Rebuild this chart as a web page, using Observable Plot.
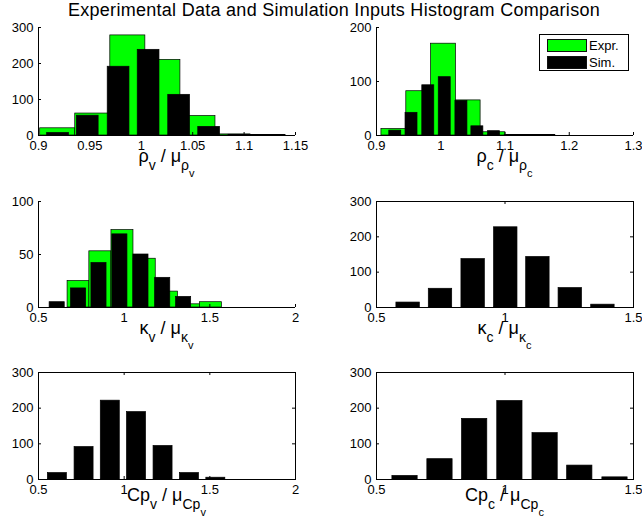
<!DOCTYPE html>
<html>
<head>
<meta charset="utf-8">
<script src="https://cdn.jsdelivr.net/npm/d3@7"></script>
<script src="https://cdn.jsdelivr.net/npm/@observablehq/plot@0.6"></script>
<style>
  body { margin: 0; background: white; font-family: "Liberation Sans", Arial, sans-serif; }
  #wrap { position: relative; width: 642px; height: 529px; overflow: hidden; }
  .cell { position: absolute; }
  .cell svg { overflow: visible; }
  .title { position: absolute; left: 34px; top: 1px; width: 600px; text-align: center; font-size: 18px; line-height: 18px; letter-spacing: 0.28px; white-space: nowrap; }
  .xl { position: absolute; text-align: center; font-size: 18px; line-height: 18px; white-space: nowrap; }
  .s1 { font-size: 14px; vertical-align: -8px; }
  .s2 { font-size: 11px; vertical-align: -7px; }
  .legend { position: absolute; left: 539px; top: 34px; width: 88px; height: 35px; border: 1px solid black; background: white; font-size: 13px; }
  .sw { position: absolute; left: 7px; width: 38px; height: 11px; border: 1px solid #111; }
  .lt { position: absolute; left: 49px; line-height: 13px; }
</style>
</head>
<body>
<div id="wrap">
  <div class="title">Experimental Data and Simulation Inputs Histogram Comparison</div>
</div>
<script>
// ---------- data ----------
const seriesNames = ["Expr.", "Sim."];

// rho_v / mu_rho_v
const rhoVExprCenters = [0.9187, 0.9528, 0.9869, 1.0210, 1.0551, 1.0892, 1.1233];
const rhoVExprCounts  = [20, 61, 278, 210, 54, 3, 1];
const rhoVSimCenters  = [0.9190, 0.9479, 0.9779, 1.0071, 1.0368, 1.0660, 1.0954, 1.1248];
const rhoVSimCounts   = [7, 55, 191, 238, 113, 24, 2, 1];

// rho_c / mu_rho_c
const rhoCExprCenters = [0.9270, 0.9657, 1.0043, 1.0427, 1.0813, 1.1203, 1.1590];
const rhoCExprCounts  = [12, 82, 170, 65, 6, 1, 1];
const rhoCSimCenters  = [0.9292, 0.9545, 0.9806, 1.0062, 1.0322, 1.0570, 1.0829, 1.1089];
const rhoCSimCounts   = [9, 42, 93, 108, 64, 17, 8, 1];

// kappa_v / mu_kappa_v
const kapVExprCenters = [0.734, 0.861, 0.990, 1.120, 1.250, 1.378, 1.506];
const kapVExprCounts  = [25, 53, 73, 46, 15, 3, 5];
const kapVSimCenters  = [0.609, 0.734, 0.853, 0.975, 1.098, 1.225, 1.347];
const kapVSimCounts   = [5, 18, 42, 69, 50, 28, 10];

// kappa_c / mu_kappa_c
const kapCSimCenters = [0.623, 0.749, 0.876, 1.003, 1.128, 1.254, 1.381];
const kapCSimCounts  = [14, 53, 137, 227, 143, 55, 8];

// Cp_v / mu_Cp_v
const cpVSimCenters = [0.610, 0.766, 0.919, 1.072, 1.227, 1.381, 1.535];
const cpVSimCounts  = [18, 91, 221, 189, 94, 18, 5];

// Cp_c / mu_Cp_c
const cpCSimCenters = [0.611, 0.747, 0.882, 1.019, 1.156, 1.291, 1.428];
const cpCSimCounts  = [10, 57, 170, 220, 130, 39, 6];

// tick values
const xTicksRhoV = [0.9, 0.95, 1, 1.05, 1.1, 1.15];
const xTicksRhoC = [0.9, 1, 1.1, 1.2, 1.3];
const xTicksWide = [0.5, 1, 1.5, 2];
const xTicksNarrow = [0.5, 1, 1.5];
const yTicks300 = [0, 100, 200, 300];
const yTicks200 = [0, 100, 200];
const yTicks100 = [0, 50, 100];

// ---------- styling / layout ----------
const GREEN = "#00ff00", BLACK = "#000000";
const EXPR_FRAC = 1.0, SIM_FRAC = 0.72, TICK = 3;

const panels = [
  { left: 0, top: 0, width: 321, height: 175, ml: 38, mr: 26, mt: 27, mb: 40, box: false,
    xDomain: [0.9, 1.15], xTicks: xTicksRhoV, yDomain: [0, 300], yTicks: yTicks300,
    series: [[rhoVExprCenters, rhoVExprCounts, GREEN, EXPR_FRAC], [rhoVSimCenters, rhoVSimCounts, BLACK, SIM_FRAC]],
    label: 'ρ<span class="s1">v</span> / μ<span class="s1">ρ<span class="s2">v</span></span>', labelTop: 147 },
  { left: 321, top: 0, width: 321, height: 175, ml: 55, mr: 9, mt: 27, mb: 40, box: false,
    xDomain: [0.9, 1.3], xTicks: xTicksRhoC, yDomain: [0, 200], yTicks: yTicks200,
    series: [[rhoCExprCenters, rhoCExprCounts, GREEN, EXPR_FRAC], [rhoCSimCenters, rhoCSimCounts, BLACK, SIM_FRAC]],
    label: 'ρ<span class="s1">c</span> / μ<span class="s1">ρ<span class="s2">c</span></span>', labelTop: 147 },
  { left: 0, top: 175, width: 321, height: 175, ml: 38, mr: 26, mt: 26, mb: 43, box: false,
    xDomain: [0.5, 2], xTicks: xTicksWide, yDomain: [0, 100], yTicks: yTicks100,
    series: [[kapVExprCenters, kapVExprCounts, GREEN, EXPR_FRAC], [kapVSimCenters, kapVSimCounts, BLACK, SIM_FRAC]],
    label: 'κ<span class="s1">v</span> / μ<span class="s1">κ<span class="s2">v</span></span>', labelTop: 319 },
  { left: 321, top: 175, width: 321, height: 175, ml: 55, mr: 9, mt: 26, mb: 43, box: true,
    xDomain: [0.5, 1.5], xTicks: xTicksNarrow, yDomain: [0, 300], yTicks: yTicks300,
    series: [[kapCSimCenters, kapCSimCounts, BLACK, SIM_FRAC]],
    label: 'κ<span class="s1">c</span> / μ<span class="s1">κ<span class="s2">c</span></span>', labelTop: 319 },
  { left: 0, top: 350, width: 321, height: 179, ml: 38, mr: 26, mt: 22, mb: 50, box: true,
    xDomain: [0.5, 2], xTicks: xTicksWide, yDomain: [0, 300], yTicks: yTicks300,
    series: [[cpVSimCenters, cpVSimCounts, BLACK, SIM_FRAC]],
    label: 'Cp<span class="s1">v</span> / μ<span class="s1">Cp<span class="s2">v</span></span>', labelTop: 486 },
  { left: 321, top: 350, width: 321, height: 179, ml: 55, mr: 9, mt: 22, mb: 50, box: true,
    xDomain: [0.5, 1.5], xTicks: xTicksNarrow, yDomain: [0, 300], yTicks: yTicks300,
    series: [[cpCSimCenters, cpCSimCounts, BLACK, SIM_FRAC]],
    label: 'Cp<span class="s1">c</span> / μ<span class="s1">Cp<span class="s2">c</span></span>', labelTop: 486 }
];

const wrap = document.getElementById("wrap");

for (const p of panels) {
  const plotW = p.width - p.ml - p.mr;
  const plotH = p.height - p.mt - p.mb;
  const marks = [];
  for (const [centers, counts, color, frac] of p.series) {
    const spacing = d3.median(d3.pairs(centers, (a, b) => b - a));
    const half = spacing * frac / 2;
    const rows = centers.map((c, i) => ({ x1: c - half, x2: c + half, y1: 0, y2: counts[i] }));
    marks.push(Plot.rectY(rows, { x1: "x1", x2: "x2", y1: "y1", y2: "y2", fill: color, stroke: "#000", strokeWidth: 0.7, clip: true }));
  }
  if (p.box) {
    marks.push(Plot.frame({ stroke: "#000", strokeWidth: 1 }));
  } else {
    marks.push(Plot.ruleX([p.xDomain[0]], { stroke: "#000", strokeWidth: 1 }));
    marks.push(Plot.ruleY([p.yDomain[0]], { stroke: "#000", strokeWidth: 1 }));
  }
  // inward ticks
  marks.push(Plot.tickX(p.xTicks, { x: d => d, insetTop: plotH - TICK, stroke: "#000" }));
  marks.push(Plot.tickY(p.yTicks, { y: d => d, insetRight: plotW - TICK, stroke: "#000" }));
  if (p.box) {
    marks.push(Plot.tickX(p.xTicks, { x: d => d, insetBottom: plotH - TICK, stroke: "#000" }));
    marks.push(Plot.tickY(p.yTicks, { y: d => d, insetLeft: plotW - TICK, stroke: "#000" }));
  }
  marks.push(Plot.axisX({ ticks: p.xTicks, tickSize: 0, tickPadding: 5, tickFormat: d => String(d), label: null, fontSize: 13 }));
  marks.push(Plot.axisY({ ticks: p.yTicks, tickSize: 0, tickPadding: 5, tickFormat: d => String(d), label: null, fontSize: 13 }));

  const chart = Plot.plot({
    width: p.width, height: p.height,
    marginLeft: p.ml, marginRight: p.mr, marginTop: p.mt, marginBottom: p.mb,
    x: { domain: p.xDomain },
    y: { domain: p.yDomain },
    style: { fontFamily: '"Liberation Sans", Arial, sans-serif', fontSize: "13px", background: "transparent", color: "#000", overflow: "visible" },
    marks
  });
  const cell = document.createElement("div");
  cell.className = "cell";
  cell.style.left = p.left + "px";
  cell.style.top = p.top + "px";
  cell.style.width = p.width + "px";
  cell.appendChild(chart);
  wrap.appendChild(cell);

  const lab = document.createElement("div");
  lab.className = "xl";
  lab.style.left = (p.left + p.ml) + "px";
  lab.style.width = plotW + "px";
  lab.style.top = p.labelTop + "px";
  lab.innerHTML = p.label;
  wrap.appendChild(lab);
}

// legend
const legend = document.createElement("div");
legend.className = "legend";
const legendColors = [GREEN, BLACK];
seriesNames.forEach((name, i) => {
  const sw = document.createElement("div");
  sw.className = "sw";
  sw.style.top = (4 + i * 17) + "px";
  sw.style.background = legendColors[i];
  legend.appendChild(sw);
  const t = document.createElement("div");
  t.className = "lt";
  t.style.top = (4 + i * 17) + "px";
  t.textContent = name;
  legend.appendChild(t);
});
wrap.appendChild(legend);
</script>
</body>
</html>
